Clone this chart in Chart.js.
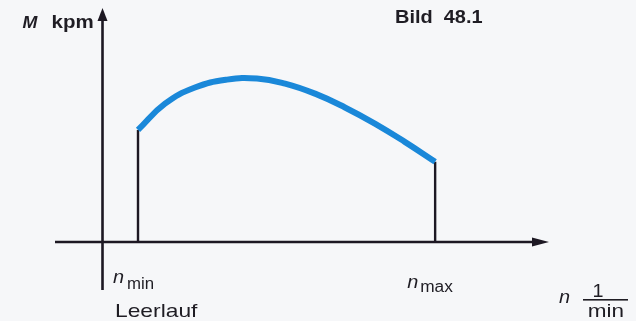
<!DOCTYPE html>
<html lang="de">
<head>
<meta charset="utf-8">
<title>Bild 48.1</title>
<script src="https://cdn.jsdelivr.net/npm/chart.js@4/dist/chart.umd.min.js"></script>
<style>
  html, body { margin: 0; padding: 0; background: #f6f7f9; }
  #wrap { width: 636px; height: 321px; position: relative; }
</style>
</head>
<body>
<div id="wrap"><canvas id="c" width="636" height="321"></canvas></div>
<script>
// Drehmomentkurve M(n) zwischen Leerlauf- und Höchstdrehzahl
const drehzahl = [7.95, 14.0, 20.7, 27.9, 34.6, 40.9, 47.6, 54.3, 61.0, 67.7, 74.5];
const moment   = [47.9, 59.1, 66.0, 69.4, 69.9, 67.7, 63.4, 57.5, 50.6, 42.8, 34.3];
const nMin = drehzahl[0];
const nMax = drehzahl[drehzahl.length - 1];
// Achsenbereich (negativer Teil = Überstand der Achsen über den Ursprung)
const xBereich = [-10.64, 100];
const yBereich = [-20.5, 100];

const INK = '#1d1823';
const BLUE = '#1a88d9';
const FONT = "'Liberation Sans', Arial, Helvetica, sans-serif";

const kurve = drehzahl.map((n, i) => ({ x: n, y: moment[i] }));

// Hintergrund
const hintergrund = {
  id: 'hintergrund',
  beforeDraw(chart) {
    const ctx = chart.ctx;
    ctx.save();
    ctx.fillStyle = '#f6f7f9';
    ctx.fillRect(0, 0, chart.width, chart.height);
    ctx.restore();
  }
};

// Koordinatenachsen mit Pfeilspitzen
const achsen = {
  id: 'achsen',
  beforeDatasetsDraw(chart) {
    const { ctx, scales: { x, y } } = chart;
    const x0 = x.getPixelForValue(0), y0 = y.getPixelForValue(0);
    const xl = x.getPixelForValue(x.min), xr = x.getPixelForValue(x.max);
    const yb = y.getPixelForValue(y.min), yt = y.getPixelForValue(y.max);
    ctx.save();
    ctx.strokeStyle = INK;
    ctx.fillStyle = INK;
    ctx.lineWidth = 2.6;
    ctx.beginPath();
    ctx.moveTo(xl, y0); ctx.lineTo(xr - 10, y0);
    ctx.moveTo(x0, yb); ctx.lineTo(x0, yt + 8);
    ctx.stroke();
    // Pfeil n-Achse
    ctx.beginPath();
    ctx.moveTo(xr, y0);
    ctx.lineTo(xr - 17, y0 - 4.5);
    ctx.lineTo(xr - 17, y0 + 4.5);
    ctx.closePath();
    ctx.fill();
    // Pfeil M-Achse
    ctx.beginPath();
    ctx.moveTo(x0, yt);
    ctx.lineTo(x0 - 5, yt + 13);
    ctx.lineTo(x0 + 5, yt + 13);
    ctx.closePath();
    ctx.fill();
    ctx.restore();
  }
};

// Text mit leichter horizontaler Streckung (breiter Satzschrift-Charakter)
function text(ctx, s, x, y, font, sx, align) {
  ctx.save();
  ctx.font = font;
  ctx.textAlign = align || 'left';
  ctx.translate(x, y);
  ctx.scale(sx, 1);
  ctx.fillText(s, 0, 0);
  ctx.restore();
}

// Beschriftungen
const beschriftung = {
  id: 'beschriftung',
  afterDatasetsDraw(chart) {
    const { ctx, scales: { x, y } } = chart;
    const x0 = x.getPixelForValue(0), y0 = y.getPixelForValue(0);
    const px = (v) => x.getPixelForValue(v);
    ctx.save();
    ctx.fillStyle = '#1f1d24';
    ctx.textBaseline = 'alphabetic';

    // M kpm
    text(ctx, 'M', x0 - 80, 28, `italic bold 17px ${FONT}`, 1.05);
    text(ctx, 'kpm', x0 - 51, 28, `bold 18px ${FONT}`, 1.14);

    // Bild 48.1
    text(ctx, 'Bild  48.1', 395, 23, `bold 19px ${FONT}`, 1.05);

    // n_min / Leerlauf
    text(ctx, 'n', px(nMin) - 25, y0 + 41, `italic 19px ${FONT}`, 1.05);
    text(ctx, 'min', px(nMin) - 11, y0 + 47, `16px ${FONT}`, 1.05);
    text(ctx, 'Leerlauf', px(nMin) - 23, y0 + 75, `19px ${FONT}`, 1.2);

    // n_max
    text(ctx, 'n', px(nMax) - 28, y0 + 46, `italic 19px ${FONT}`, 1.05);
    text(ctx, 'max', px(nMax) - 15, y0 + 50, `16px ${FONT}`, 1.08);

    // n 1/min
    text(ctx, 'n', 559, 303, `italic 19px ${FONT}`, 1.05);
    text(ctx, '1', 598, 297, `18px ${FONT}`, 1.1, 'center');
    text(ctx, 'min', 606, 317, `18px ${FONT}`, 1.25, 'center');
    ctx.fillRect(583, 299, 45, 1.6);
    ctx.restore();
  }
};

new Chart(document.getElementById('c'), {
  type: 'line',
  data: {
    datasets: [
      {
        label: 'M(n)',
        data: kurve,
        borderColor: BLUE,
        borderWidth: 6,
        borderCapStyle: 'butt',
        tension: 0.45,
        pointRadius: 0,
        fill: false,
        order: 0
      },
      {
        label: 'n_min',
        data: [{ x: nMin, y: 0 }, { x: nMin, y: moment[0] }],
        borderColor: INK,
        borderWidth: 2.4,
        pointRadius: 0,
        order: 1
      },
      {
        label: 'n_max',
        data: [{ x: nMax, y: 0 }, { x: nMax, y: moment[moment.length - 1] }],
        borderColor: INK,
        borderWidth: 2.4,
        pointRadius: 0,
        order: 1
      }
    ]
  },
  options: {
    responsive: false,
    animation: false,
    events: [],
    layout: { padding: { left: 55, right: 87, top: 8, bottom: 31 } },
    plugins: { legend: { display: false }, tooltip: { enabled: false } },
    scales: {
      x: { type: 'linear', min: xBereich[0], max: xBereich[1], display: false },
      y: { type: 'linear', min: yBereich[0], max: yBereich[1], display: false }
    }
  },
  plugins: [hintergrund, achsen, beschriftung]
});
</script>
</body>
</html>
